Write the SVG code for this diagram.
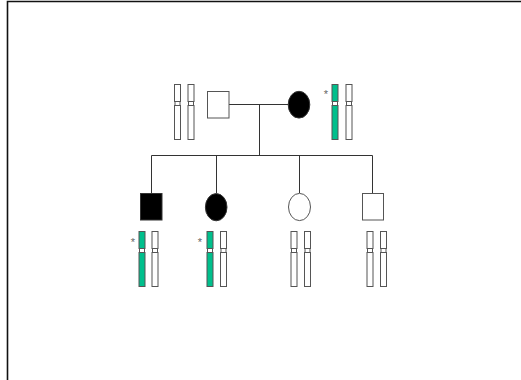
<svg xmlns="http://www.w3.org/2000/svg" width="521" height="380" viewBox="0 0 521 380">
  <defs>
    <style>
      .frame { stroke: #111; stroke-width: 1.6; fill: none; }
      .line { stroke: #333; stroke-width: 1; fill: none; }
      .open { fill: #fff; stroke: #555; stroke-width: 1; }
      .affected { fill: #000; stroke: #333; stroke-width: 1; }
      .arm { stroke: #555; stroke-width: 1; }
      .plain { fill: #fff; }
      .mutant { fill: #00BF8C; }
      .mark { font-family: "Liberation Sans", Arial, sans-serif; font-size: 11px; fill: #666; }
    </style>
    <!-- one chromosome, 6 wide and 56 tall, with a centromere constriction -->
    <g id="chrom-plain">
      <rect class="arm plain" x="0.5" y="0.5" width="6" height="17"/>
      <rect class="arm plain" x="1" y="17.5" width="5" height="4"/>
      <rect class="arm plain" x="0.5" y="21.5" width="6" height="34"/>
    </g>
    <g id="chrom-mutant">
      <rect class="arm mutant" x="0.5" y="0.5" width="6" height="17"/>
      <rect class="arm plain" x="1" y="17.5" width="5" height="4"/>
      <rect class="arm mutant" x="0.5" y="21.5" width="6" height="34"/>
    </g>
  </defs>

  <rect width="521" height="380" fill="#fff"/>
  <path class="frame" d="M7.5 380 V1.5 H521"/>

  <g id="connectors">
    <path class="line" d="M229 104.5 H288"/>
    <path class="line" d="M259.5 104.5 V155.5"/>
    <path class="line" d="M151.5 155.5 H372.5"/>
    <path class="line" d="M151.5 155.5 V193"/>
    <path class="line" d="M216.5 155.5 V193"/>
    <path class="line" d="M299.5 155.5 V193"/>
    <path class="line" d="M372.5 155.5 V193"/>
  </g>

  <g id="father">
    <use href="#chrom-plain" x="174" y="84"/>
    <use href="#chrom-plain" x="187.5" y="84"/>
    <rect class="open" x="207.5" y="91.5" width="21.5" height="26.5"/>
  </g>

  <g id="mother">
    <ellipse class="affected" cx="299" cy="104.7" rx="10.8" ry="13.4"/>
    <text class="mark" x="326" y="97.5" text-anchor="middle">*</text>
    <use href="#chrom-mutant" x="331.5" y="84"/>
    <use href="#chrom-plain" x="345.5" y="84"/>
  </g>

  <g id="son-affected">
    <rect class="affected" x="140.5" y="193.5" width="21.5" height="26.5"/>
    <text class="mark" x="133" y="245.5" text-anchor="middle">*</text>
    <use href="#chrom-mutant" x="138.5" y="231"/>
    <use href="#chrom-plain" x="151.5" y="231"/>
  </g>

  <g id="daughter-affected">
    <ellipse class="affected" cx="216.2" cy="207.2" rx="10.8" ry="13.6"/>
    <text class="mark" x="200" y="245.5" text-anchor="middle">*</text>
    <use href="#chrom-mutant" x="206.5" y="231"/>
    <use href="#chrom-plain" x="220" y="231"/>
  </g>

  <g id="daughter-unaffected">
    <ellipse class="open" cx="299.5" cy="207" rx="11" ry="13.6"/>
    <use href="#chrom-plain" x="290.5" y="231"/>
    <use href="#chrom-plain" x="304" y="231"/>
  </g>

  <g id="son-unaffected">
    <rect class="open" x="362.5" y="193.5" width="21" height="26.5"/>
    <use href="#chrom-plain" x="366.5" y="231"/>
    <use href="#chrom-plain" x="380" y="231"/>
  </g>
</svg>
